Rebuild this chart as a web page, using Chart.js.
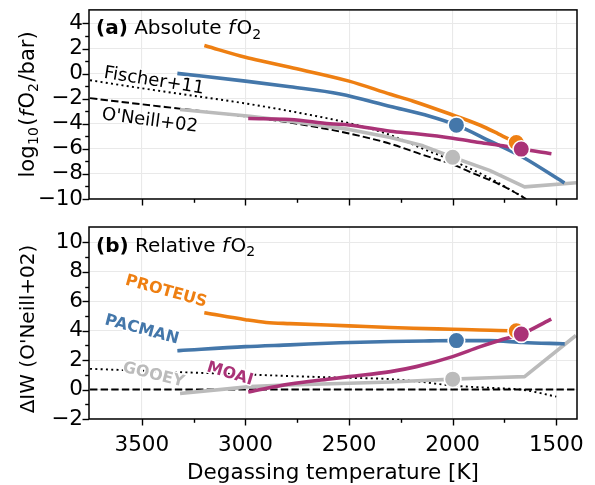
<!DOCTYPE html>
<html>
<head>
<meta charset="utf-8">
<title>Absolute and relative fO2 versus degassing temperature</title>
<script src="https://cdn.jsdelivr.net/npm/chart.js@4.4.1/dist/chart.umd.min.js"></script>
<style>
  html, body { margin: 0; padding: 0; background: #ffffff; }
  #figure { position: relative; width: 595px; height: 485px; overflow: hidden; }
  #figure canvas { position: absolute; left: 0; }
  #absCanvas { top: 0; }
  #relCanvas { top: 212px; }
</style>
</head>
<body>
<div id="figure">
  <canvas id="absCanvas" width="595" height="212"></canvas>
  <canvas id="relCanvas" width="595" height="273"></canvas>
</div>
<script>
// Model curves: degassing temperature [K], absolute log10 fO2 [bar], and ΔIW relative to O'Neill+02
const proteusTemp    = [3190, 3000, 2900, 2785, 2500, 2300, 2190, 2000, 1870, 1780, 1695];
const proteusLogFO2  = [2.2, 1.3, 0.92, 0.5, -0.6, -1.65, -2.2, -3.3, -4.1, -4.8, -5.5];
const proteusDeltaIW = [5.2, 4.75, 4.56, 4.48, 4.33, 4.22, 4.17, 4.1, 4.05, 4.02, 3.99];

const pacmanTemp    = [3320, 3000, 2785, 2544, 2300, 2111, 1982, 1822, 1661, 1468];
const pacmanLogFO2  = [0.0, -0.6, -1.05, -1.62, -2.62, -3.4, -4.11, -5.36, -6.67, -8.64];
const pacmanDeltaIW = [2.65, 2.92, 3.04, 3.18, 3.27, 3.31, 3.33, 3.33, 3.2, 3.11];

const gooeyTemp    = [3307, 2978, 2785, 2500, 2300, 2143, 2000, 1822, 1653, 1412];
const gooeyLogFO2  = [-2.88, -3.40, -3.79, -4.45, -5.1, -5.76, -6.67, -7.72, -9.03, -8.72];
const gooeyDeltaIW = [-0.25, 0.2, 0.32, 0.43, 0.52, 0.62, 0.71, 0.8, 0.88, 3.6];

const moaiTemp    = [2978, 2785, 2592, 2500, 2300, 2175, 2000, 1870, 1757, 1669, 1532];
const moaiLogFO2  = [-3.58, -3.66, -4.0, -4.1, -4.6, -4.8, -5.15, -5.5, -5.76, -6.02, -6.37];
const moaiDeltaIW = [-0.14, 0.38, 0.72, 0.88, 1.22, 1.56, 2.24, 2.9, 3.42, 3.77, 4.74];

// Highlighted state of each model
const markerModels  = ['PROTEUS', 'PACMAN', 'GOOEY', 'MOAI'];
const markerTemp    = [1693, 1982, 2000, 1669];
const markerLogFO2  = [-5.5, -4.11, -6.67, -6.02];
const markerDeltaIW = [3.99, 3.33, 0.71, 3.77];

// Iron-wüstite buffer parameterisations
const fischerTemp    = [3750, 3500, 3250, 3000, 2750, 2500, 2300, 2150, 2000, 1820, 1660];
const fischerLogFO2  = [-0.53, -1.17, -1.77, -2.38, -3.1, -3.95, -4.9, -5.95, -6.95, -8.35, -9.85];
const fischerRelTemp = [3750, 3500, 3250, 3000, 2750, 2500, 2300, 2150, 2000, 1820, 1660, 1500];
const fischerDeltaIW = [1.41, 1.28, 1.15, 1.03, 0.9, 0.8, 0.71, 0.52, 0.27, 0.12, -0.02, -0.48];
const oneillTemp     = [3750, 3500, 3250, 3000, 2750, 2500, 2300, 2150, 2000, 1900, 1820, 1730, 1645];
const oneillLogFO2   = [-1.96, -2.45, -2.92, -3.42, -4.0, -4.78, -5.6, -6.45, -7.25, -7.95, -8.5, -9.2, -10.0];
const oneillRelTemp  = [3750, 1400];
const oneillDeltaIW  = [0, 0];

// Tick positions (labelled every 500 K and every 2 dex)
const tempTicks = [1500, 1750, 2000, 2250, 2500, 2750, 3000, 3250, 3500];
const absTicks  = [-10, -9, -8, -7, -6, -5, -4, -3, -2, -1, 0, 1, 2, 3, 4];
const relTicks  = [-2, -1, 0, 1, 2, 3, 4, 5, 6, 7, 8, 9, 10];

const FAMILY = "'DejaVu Sans', 'Liberation Sans', sans-serif";
const font = (size, style) => (style ? style + ' ' : '') + size + 'px ' + FAMILY;
const TICK_SIZE = 21.5;

const COLORS = {
  proteus: '#EE7F12',
  pacman: '#4477AA',
  gooey: '#BBBBBB',
  moai: '#AA3377',
  grid: '#e9e9e9'
};

const pts = (xs, ys) => xs.map((x, i) => ({ x: x, y: ys[i] }));
const minus = v => (v < 0 ? '\u2212' + Math.abs(v) : String(v));

function modelLine(label, xs, ys, color, order, smooth) {
  const ds = {
    label: label, data: pts(xs, ys), borderColor: color, backgroundColor: color,
    borderWidth: 3.6, pointRadius: 0, pointHoverRadius: 0, fill: false,
    borderCapStyle: 'square', borderJoinStyle: 'round', order: order, clip: 0, tension: 0
  };
  if (smooth !== false) ds.cubicInterpolationMode = 'monotone';
  return ds;
}
function refLine(label, xs, ys, dash, order) {
  return {
    label: label, data: pts(xs, ys), borderColor: '#000', backgroundColor: '#000',
    borderWidth: 1.9, borderDash: dash, pointRadius: 0, pointHoverRadius: 0, fill: false,
    cubicInterpolationMode: 'monotone', borderCapStyle: 'butt', order: order, clip: 0
  };
}
function marker(i, ys, color, order) {
  return {
    label: markerModels[i] + ' marker', data: [{ x: markerTemp[i], y: ys[i] }],
    showLine: false, pointRadius: 8.3, pointHoverRadius: 8.3, pointBackgroundColor: color,
    pointBorderColor: '#ffffff', pointBorderWidth: 1.6, order: order
  };
}

// Text made of runs with different fonts (bold, italic, subscripts); gap adds space after a run
function drawRich(ctx, segs, x, y, opt) {
  opt = opt || {};
  ctx.save();
  ctx.translate(x, y);
  if (opt.angle) ctx.rotate(opt.angle);
  ctx.textAlign = 'left';
  ctx.textBaseline = opt.baseline || 'alphabetic';
  let total = 0;
  const widths = segs.map(s => {
    ctx.font = s.font;
    const w = ctx.measureText(s.text).width + (s.gap || 0);
    total += w;
    return w;
  });
  const start = opt.align === 'center' ? -total / 2 : (opt.align === 'right' ? -total : 0);
  if (opt.halo) {
    let cx = start;
    ctx.strokeStyle = '#ffffff';
    ctx.lineWidth = opt.halo;
    ctx.lineJoin = 'round';
    segs.forEach((s, i) => { ctx.font = s.font; ctx.strokeText(s.text, cx, s.dy || 0); cx += widths[i]; });
  }
  let cx = start;
  segs.forEach((s, i) => {
    ctx.font = s.font;
    ctx.fillStyle = s.color || opt.color || '#000';
    ctx.fillText(s.text, cx, s.dy || 0);
    cx += widths[i];
  });
  ctx.restore();
}

// Frame, outward tick marks, titles and in-axes annotations
const decorPlugin = {
  id: 'decor',
  afterDraw(chart, args, o) {
    const ctx = chart.ctx;
    const a = chart.chartArea;
    const xs = chart.scales.x, ys = chart.scales.y;
    ctx.save();
    ctx.strokeStyle = '#000';
    ctx.lineWidth = 1.4;
    xs.ticks.forEach(t => {
      const px = Math.round(xs.getPixelForValue(t.value)) + 0.5;
      const len = t.value % 500 === 0 ? 6.5 : 3.8;
      ctx.beginPath(); ctx.moveTo(px, a.bottom); ctx.lineTo(px, a.bottom + len); ctx.stroke();
    });
    ys.ticks.forEach(t => {
      const py = Math.round(ys.getPixelForValue(t.value)) + 0.5;
      const len = t.value % 2 === 0 ? 6.5 : 3.8;
      ctx.beginPath(); ctx.moveTo(a.left - len, py); ctx.lineTo(a.left, py); ctx.stroke();
    });
    ctx.lineWidth = 1.5;
    ctx.strokeRect(a.left, a.top, a.right - a.left, a.bottom - a.top);
    ctx.restore();

    drawRich(ctx, o.title, a.left + 7, a.top + 24.5, {});
    drawRich(ctx, o.yTitle, o.yTitleX, (a.top + a.bottom) / 2 + (o.yTitleShift || 0),
      { angle: -Math.PI / 2, align: 'center' });
    if (o.xTitle) {
      drawRich(ctx, o.xTitle, (a.left + a.right) / 2, a.bottom + o.xTitleDrop, { align: 'center' });
    }
    (o.notes || []).forEach(n => {
      drawRich(ctx, n.segs, xs.getPixelForValue(n.t), ys.getPixelForValue(n.v), {
        angle: n.angle * Math.PI / 180, align: n.align, baseline: n.baseline, color: n.color, halo: n.halo
      });
    });
  }
};

function sub(text, gap) { return { text: text, font: font(14), dy: 4.5, gap: gap || 0 }; }
function ital(text, gap) { return { text: text, font: font(20, 'italic'), gap: gap || 0 }; }
function plain(text, size, gap) { return { text: text, font: font(size || 20), gap: gap || 0 }; }

function makeChart(id, datasets, yMin, yMax, yTicks, padTop, xHeight, showXLabels, decor) {
  return new Chart(document.getElementById(id), {
    type: 'line',
    data: { datasets: datasets },
    plugins: [decorPlugin],
    options: {
      responsive: false,
      animation: false,
      devicePixelRatio: 1,
      events: [],
      layout: { padding: { left: 0, right: 18, top: padTop, bottom: 0 } },
      plugins: { legend: { display: false }, tooltip: { enabled: false }, decor: decor },
      scales: {
        x: {
          type: 'linear', reverse: true, min: 1400, max: 3755,
          afterBuildTicks: s => { s.ticks = tempTicks.map(v => ({ value: v })); },
          afterFit: s => { s.height = xHeight; s.paddingLeft = 0; s.paddingRight = 0; },
          ticks: {
            display: showXLabels, autoSkip: false, maxRotation: 0, padding: 14,
            color: '#000', font: { family: FAMILY, size: TICK_SIZE },
            callback: v => (v % 500 === 0 ? String(v) : '')
          },
          grid: {
            drawTicks: false, lineWidth: 1.1,
            color: c => (c.tick && c.tick.value % 500 === 0 ? COLORS.grid : 'rgba(0,0,0,0)')
          },
          border: { display: false }
        },
        y: {
          type: 'linear', min: yMin, max: yMax,
          afterBuildTicks: s => { s.ticks = yTicks.map(v => ({ value: v })); },
          afterFit: s => { s.width = 89; s.paddingTop = 0; s.paddingBottom = 0; },
          ticks: {
            autoSkip: false, padding: 6, color: '#000', font: { family: FAMILY, size: TICK_SIZE },
            callback: v => (v % 2 === 0 ? minus(v) : '')
          },
          grid: {
            drawTicks: false, lineWidth: 1.1,
            color: c => (c.tick && c.tick.value % 2 === 0 ? COLORS.grid : 'rgba(0,0,0,0)')
          },
          border: { display: false }
        }
      }
    }
  });
}

// (a) absolute oxygen fugacity
makeChart('absCanvas', [
  marker(3, markerLogFO2, COLORS.moai, 0),
  marker(0, markerLogFO2, COLORS.proteus, 1),
  marker(1, markerLogFO2, COLORS.pacman, 1),
  marker(2, markerLogFO2, COLORS.gooey, 1),
  modelLine('MOAI', moaiTemp, moaiLogFO2, COLORS.moai, 2),
  modelLine('PROTEUS', proteusTemp, proteusLogFO2, COLORS.proteus, 3),
  modelLine('PACMAN', pacmanTemp, pacmanLogFO2, COLORS.pacman, 4),
  modelLine('GOOEY', gooeyTemp, gooeyLogFO2, COLORS.gooey, 5, false),
  refLine('Fischer+11', fischerTemp, fischerLogFO2, [2, 3.3], 6),
  refLine("O'Neill+02", oneillTemp, oneillLogFO2, [7.4, 3.2], 7)
], -10, 5.08, absTicks, 7, 13, false, {
  title: [
    { text: '(a)', font: font(20, 'bold') },
    plain(' Absolute '),
    ital('f', 1.5),
    plain('O'),
    sub('2')
  ],
  yTitle: [
    plain('log', 21, 0.5), sub('10', 1.5),
    plain('(', 21, 0.5), ital('f', 1.5),
    plain('O', 21), sub('2', 1.5),
    plain('/bar)', 21)
  ],
  yTitleX: 33.5,
  notes: [
    { segs: [plain('Fischer+11', 18)], t: 3686, v: -0.34, angle: 9, align: 'left', halo: 2.5 },
    { segs: [plain("O'Neill+02", 18)], t: 3696, v: -3.64, angle: 7.5, align: 'left', halo: 2.5 }
  ]
});

// (b) relative to the O'Neill+02 iron-wüstite buffer
makeChart('relCanvas', [
  marker(3, markerDeltaIW, COLORS.moai, 0),
  marker(0, markerDeltaIW, COLORS.proteus, 1),
  marker(1, markerDeltaIW, COLORS.pacman, 1),
  marker(2, markerDeltaIW, COLORS.gooey, 1),
  modelLine('MOAI', moaiTemp, moaiDeltaIW, COLORS.moai, 2),
  modelLine('PROTEUS', proteusTemp, proteusDeltaIW, COLORS.proteus, 3),
  modelLine('PACMAN', pacmanTemp, pacmanDeltaIW, COLORS.pacman, 4),
  modelLine('GOOEY', gooeyTemp, gooeyDeltaIW, COLORS.gooey, 5, false),
  refLine('Fischer+11', fischerRelTemp, fischerDeltaIW, [2, 3.3], 6),
  refLine("O'Neill+02", oneillRelTemp, oneillDeltaIW, [7.4, 3.2], 7)
], -2, 11.05, relTicks, 15, 66, true, {
  title: [
    { text: '(b)', font: font(20, 'bold') },
    plain(' Relative '),
    ital('f', 1.5),
    plain('O'),
    sub('2')
  ],
  yTitle: [plain("\u0394IW (O'Neill+02)", 20)],
  yTitleX: 33.5,
  yTitleShift: 6,
  xTitle: [plain('Degassing temperature [K]', TICK_SIZE)],
  xTitleDrop: 60,
  notes: [
    { segs: [{ text: 'PROTEUS', font: font(16, 'bold') }], t: 3383, v: 6.66, angle: 15.5, align: 'center', baseline: 'middle', color: COLORS.proteus, halo: 3 },
    { segs: [{ text: 'PACMAN', font: font(16, 'bold') }], t: 3500, v: 4.06, angle: 15, align: 'center', baseline: 'middle', color: COLORS.pacman, halo: 3 },
    { segs: [{ text: 'GOOEY', font: font(16, 'bold') }], t: 3444, v: 0.99, angle: 14, align: 'center', baseline: 'middle', color: COLORS.gooey, halo: 3 },
    { segs: [{ text: 'MOAI', font: font(16, 'bold') }], t: 3075, v: 1.06, angle: 17, align: 'center', baseline: 'middle', color: COLORS.moai, halo: 3 }
  ]
});
</script>
</body>
</html>
